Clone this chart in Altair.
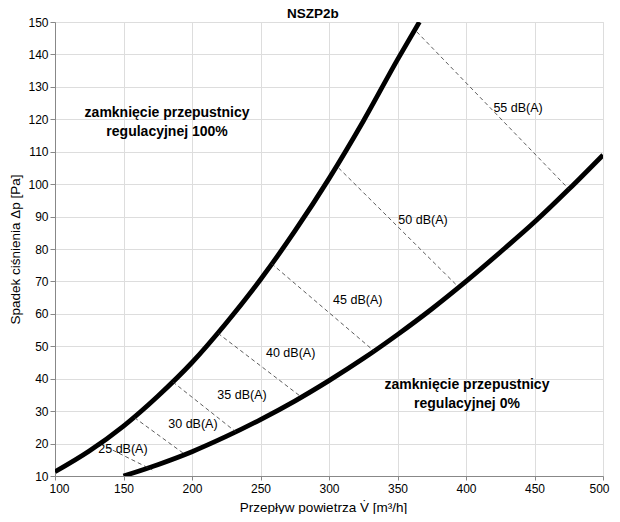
import altair as alt
import pandas as pd

# Upper curve: 100% damper closure
up_x = [100, 125, 150, 175, 200, 225, 250, 275, 300, 325, 350, 366]
up_y = [11.3, 17.7, 25.4, 34.6, 45.0, 57.2, 70.6, 85.5, 101.7, 119.4, 138.4, 150.0]
# Lower curve: 0% damper closure
lo_x = [150, 175, 200, 225, 250, 275, 300, 325, 350, 375, 400, 425, 450, 475, 500]
lo_y = [10.0, 13.5, 17.5, 22.2, 27.4, 33.1, 39.4, 46.2, 53.6, 61.5, 70.0, 79.0, 88.3, 98.4, 109.0]

# Iso-noise dashed lines (start on upper curve, end on lower curve)
db_labels = ["25 dB(A)", "30 dB(A)", "35 dB(A)", "40 dB(A)", "45 dB(A)", "50 dB(A)", "55 dB(A)"]
db_x1 = [133, 158, 186, 219, 258, 307, 364]
db_y1 = [19.9, 28.0, 39.0, 54.0, 75.5, 105.0, 147.0]
db_x2 = [171, 195, 232, 280, 333, 394, 475]
db_y2 = [11.9, 16.6, 23.6, 34.3, 48.5, 68.5, 98.5]
lab_x = [149.6, 200.7, 236.5, 272, 321, 368.6, 438]
lab_y = [18.4, 26.0, 35.0, 47.9, 64.3, 88.9, 123.5]

ann_text = ["zamknięcie przepustnicy", "regulacyjnej 100%", "zamknięcie przepustnicy", "regulacyjnej 0%"]
ann_x = [181.8, 181.8, 400.7, 400.7]
ann_y = [121.9, 116.0, 38.0, 32.2]

title_text = ["NSZP2b"]
title_x = [288.3]

x_ticks = [100, 150, 200, 250, 300, 350, 400, 450, 500]
y_ticks = [10, 20, 30, 40, 50, 60, 70, 80, 90, 100, 110, 120, 130, 140, 150]

FONT = "Liberation Sans"

curves = pd.DataFrame({
    "x": up_x + lo_x,
    "y": up_y + lo_y,
    "s": ["100%"] * len(up_x) + ["0%"] * len(lo_x),
})
dashes = pd.DataFrame({"label": db_labels, "x": db_x1, "y": db_y1, "x2": db_x2, "y2": db_y2})
labels = pd.DataFrame({"label": db_labels, "x": lab_x, "y": lab_y})
ann = pd.DataFrame({"t": ann_text, "x": ann_x, "y": ann_y})
ttl = pd.DataFrame({"t": title_text, "x": title_x})

xscale = alt.Scale(domain=[100, 500], nice=False, zero=False)
yscale = alt.Scale(domain=[10, 150], nice=False, zero=False)

xaxis = alt.Axis(values=x_ticks, title="Przepływ powietrza V̇ [m³/h]",
                 titleX=268, titleY=31, titleBaseline="middle", titleAlign="center",
                 titleFontSize=13.5, titleFontWeight="normal", labelFontSize=12,
                 tickSize=4, labelPadding=3, labelFlush=True, labelFlushOffset=6,
                 labelOverlap=False)
yaxis = alt.Axis(values=y_ticks, title="Spadek ciśnienia Δp [Pa]",
                 titleX=-40, titleY=227, titleBaseline="middle", titleAlign="center",
                 titleFontSize=13.5, titleFontWeight="normal", labelFontSize=12,
                 tickSize=5, labelPadding=2, labelFlush=False, labelOverlap=False)

X = alt.X("x:Q", scale=xscale, axis=xaxis)
Y = alt.Y("y:Q", scale=yscale, axis=yaxis)

base_lines = alt.Chart(curves).mark_line(color="black", strokeWidth=4.8, interpolate="monotone", clip=True).encode(
    x=X, y=Y, detail="s:N",
)

dash_layer = alt.Chart(dashes).mark_rule(color="#333333", strokeWidth=0.8, strokeDash=[4, 3]).encode(
    x=X, y=Y, x2="x2:Q", y2="y2:Q"
)

lab_layer = alt.Chart(labels).mark_text(font=FONT, fontSize=12.5, color="black").encode(
    x=X, y=Y, text="label:N"
)

ann_layer = alt.Chart(ann).mark_text(font=FONT, fontSize=14, fontWeight="bold", color="black").encode(
    x=X, y=Y, text="t:N"
)

title_layer = alt.Chart(ttl).mark_text(font=FONT, fontSize=13.5, fontWeight="bold", color="black",
                                        baseline="alphabetic").encode(
    x=X, y=alt.value(-4), text="t:N"
)

chart = alt.layer(base_lines, dash_layer, lab_layer, ann_layer, title_layer).properties(
    width=548, height=454,
    autosize=alt.AutoSizeParams(type="none"),
    padding={"left": 47, "top": 14, "right": 9, "bottom": 38},
).configure_view(stroke="#808080", strokeWidth=1).configure_axis(
    gridColor="#8c8c8c", gridWidth=1, domainColor="#333333", tickColor="#333333",
    labelFont=FONT, titleFont=FONT, labelColor="black", titleColor="black",
).configure(background="white")

chart.save("out.html", embed_options={"renderer": "svg", "actions": False})
